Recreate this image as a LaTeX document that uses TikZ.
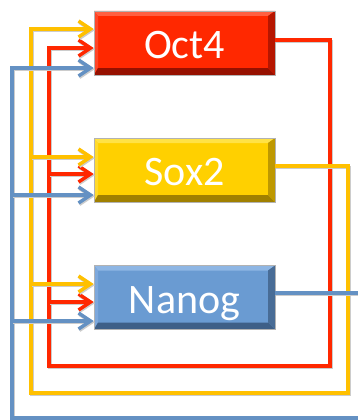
\documentclass[tikz,border=0pt]{standalone}
\usepackage{fontspec}
\setmainfont{Carlito}
\usetikzlibrary{arrows.meta}
\definecolor{rmain}{RGB}{255,40,0}
\definecolor{rtop}{RGB}{255,95,65}
\definecolor{rleft}{RGB}{255,70,40}
\definecolor{rbot}{RGB}{150,16,0}
\definecolor{rright}{RGB}{182,22,0}
\definecolor{ymain}{RGB}{255,208,0}
\definecolor{ytop}{RGB}{255,226,70}
\definecolor{yleft}{RGB}{255,218,45}
\definecolor{ybot}{RGB}{160,128,0}
\definecolor{yright}{RGB}{190,152,0}
\definecolor{bmain}{RGB}{106,155,210}
\definecolor{btop}{RGB}{142,182,228}
\definecolor{bleft}{RGB}{125,168,220}
\definecolor{bbot}{RGB}{62,95,135}
\definecolor{bright}{RGB}{72,108,150}
\definecolor{rline}{RGB}{255,40,0}
\definecolor{yline}{RGB}{255,192,0}
\definecolor{bline}{RGB}{100,145,195}
\tikzset{
  bevelbox/.style n args={5}{
    fill=#1, draw=black!30, line width=0.6pt,
    minimum width=181pt, minimum height=64pt, inner sep=0pt,
    text=white, font=\fontsize{42}{50}\selectfont,
    text height=31pt, text depth=0pt,
    path picture={
      \coordinate (nw) at (path picture bounding box.north west);
      \coordinate (ne) at (path picture bounding box.north east);
      \coordinate (sw) at (path picture bounding box.south west);
      \coordinate (se) at (path picture bounding box.south east);
      \fill[#2] (nw) -- (ne) -- ([xshift=-7pt,yshift=-5pt]ne) -- ([xshift=4pt,yshift=-5pt]nw) -- cycle;
      \fill[#3] (nw) -- ([xshift=4pt,yshift=-5pt]nw) -- ([xshift=4pt,yshift=7pt]sw) -- (sw) -- cycle;
      \fill[#4] (sw) -- (se) -- ([xshift=-7pt,yshift=7pt]se) -- ([xshift=4pt,yshift=7pt]sw) -- cycle;
      \fill[#5] (ne) -- (se) -- ([xshift=-7pt,yshift=7pt]se) -- ([xshift=-7pt,yshift=-5pt]ne) -- cycle;
    }},
  conn/.style={line width=3.5pt, draw=#1,
    preaction={draw=black!20, line width=3.5pt, transform canvas={shift={(0.9pt,-1.3pt)}}}},
  tipin/.style={-{Straight Barb[length=12pt,width=16pt]}},
  tipback/.style={{Straight Barb[length=12pt,width=16pt]}-}
}
\begin{document}
\begin{tikzpicture}[x=1pt,y=-1pt]
\clip (0,0) rectangle (358,420);
\fill[white] (0,0) rectangle (358,420);
% corner coordinates of the loops
\coordinate (rc1) at (330,366);
\coordinate (rc2) at (49,48);
\coordinate (yc1) at (348,393);
\coordinate (yc2) at (31,29);
\coordinate (bc1) at (375,418);
\coordinate (bc2) at (12,68);
% boxes
\node[bevelbox={rmain}{rtop}{rleft}{rbot}{rright}] (oct) at (184.5,43) {Oct4};
\node[bevelbox={ymain}{ytop}{yleft}{ybot}{yright}] (sox) at (184.5,170) {Sox2};
\node[bevelbox={bmain}{btop}{bleft}{bbot}{bright}] (nanog) at (184.5,297.5) {Nanog};
% red (Oct4)
\draw[conn=rline, tipin] ([yshift=3pt]oct.east) -| (rc1) -| (rc2) -- ([yshift=-5pt]oct.west);
\draw[conn=rline, tipback] ([yshift=-4pt]sox.west) -- ++(-45,0);
\draw[conn=rline, tipback] ([yshift=-4.5pt]nanog.west) -- ++(-45,0);
% yellow (Sox2)
\draw[conn=yline, tipin] ([yshift=4pt]sox.east) -| (yc1) -| (yc2) -- ([yshift=14pt]oct.west);
\draw[conn=yline, tipback] ([yshift=13pt]sox.west) -- ++(-63,0);
\draw[conn=yline, tipback] ([yshift=13.5pt]nanog.west) -- ++(-63,0);
% blue (Nanog)
\draw[conn=bline, tipin] ([yshift=4.5pt]nanog.east) -| (bc1) -| (bc2) -- ([yshift=-25pt]oct.west);
\draw[conn=bline, tipback] ([yshift=-25pt]sox.west) -- ++(-82,0);
\draw[conn=bline, tipback] ([yshift=-23.5pt]nanog.west) -- ++(-82,0);
\end{tikzpicture}
\end{document}
